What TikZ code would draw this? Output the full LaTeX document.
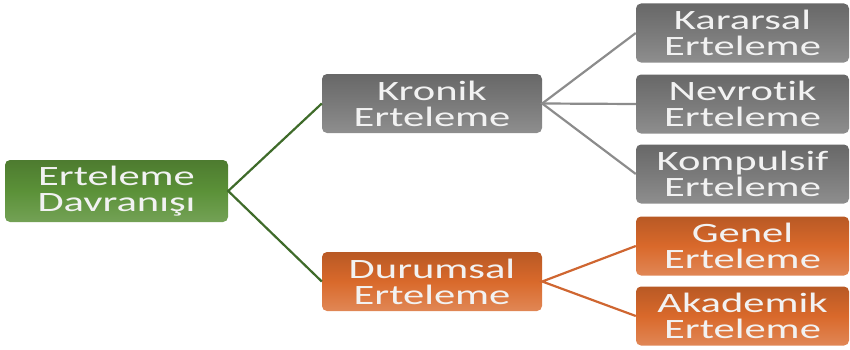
\documentclass[tikz,border=0pt]{standalone}
\usepackage{fontspec}
\setmainfont[FakeStretch=1.52,Ligatures={NoCommon}]{Carlito}
\definecolor{gfill}{HTML}{5B9138}
\definecolor{gline}{HTML}{3F6B2A}
\definecolor{kfill}{HTML}{7A7A7A}
\definecolor{kline}{HTML}{8C8C8C}
\definecolor{ofill}{HTML}{D9692B}
\definecolor{oline}{HTML}{CF6631}
\begin{document}
\begin{tikzpicture}[x=1pt,y=1pt,
  box/.style={rounded corners=5pt, inner sep=0pt, align=center, text=white!95!black,
    font=\fontsize{28}{26}\selectfont, minimum height=59pt},
  small/.style={box, minimum width=213pt},
  mid/.style={box, minimum width=220pt},
  gbox/.style={top color=gfill!85!black, bottom color=gfill!85!white, middle color=gfill},
  kbox/.style={top color=kfill!85!black, bottom color=kfill!85!white, middle color=kfill},
  obox/.style={top color=ofill!85!black, bottom color=ofill!80!white, middle color=ofill},
  glink/.style={draw=gline, line width=2.2pt},
  klink/.style={draw=kline, line width=2.2pt},
  olink/.style={draw=oline, line width=2.2pt}]
\useasboundingbox (0,0) rectangle (850,349);
\node[box, gbox, minimum width=223pt, minimum height=62pt] (root) at (116.5,158) {Erteleme\\Davranışı};
\node[mid, kbox] (kro) at (432,245.5) {Kronik\\Erteleme};
\node[mid, obox] (dur) at (432,67.5) {Durumsal\\Erteleme};
\node[small, kbox] (kar) at (742.5,316) {Kararsal\\Erteleme};
\node[small, kbox] (nev) at (742.5,245) {Nevrotik\\Erteleme};
\node[small, kbox] (kom) at (742.5,175) {Kompulsif\\Erteleme};
\node[small, obox] (gen) at (742.5,103) {Genel\\Erteleme};
\node[small, obox] (aka) at (742.5,33) {Akademik\\Erteleme};
\draw[glink] (kro.west) -- (root.east) -- (dur.west);
\draw[klink] (kar.west) -- (kro.east) -- (kom.west);
\draw[klink] (kro.east) -- (nev.west);
\draw[olink] (gen.west) -- (dur.east) -- (aka.west);
\end{tikzpicture}
\end{document}
